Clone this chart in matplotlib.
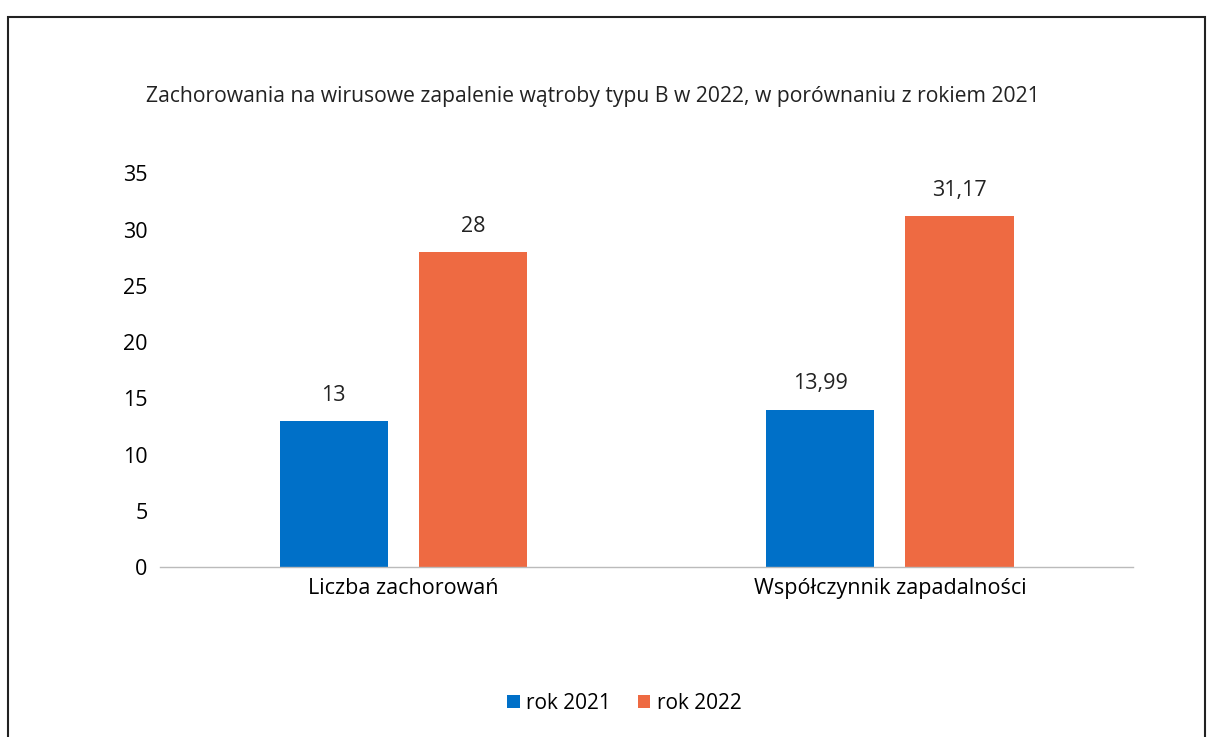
import matplotlib
matplotlib.use("Agg")
import matplotlib.pyplot as plt
import numpy as np
from matplotlib.patches import Rectangle

plt.rcParams["font.family"] = ["Open Sans", "DejaVu Sans"]

categories = ["Liczba zachorowań", "Współczynnik zapadalności"]
series = ["rok 2021", "rok 2022"]
values_2021 = [13, 13.99]
values_2022 = [28, 31.17]
labels_2021 = ["13", "13,99"]
labels_2022 = ["28", "31,17"]
colors = ["#0070c8", "#ee6a42"]

fig = plt.figure(figsize=(12.12, 7.37), dpi=100)
ax = fig.add_axes([0.132, 0.2307, 0.803, 0.534])

x = np.arange(len(categories))
w = 0.222
off = 0.143
b1 = ax.bar(x - off, values_2021, w, color=colors[0], label=series[0])
b2 = ax.bar(x + off, values_2022, w, color=colors[1], label=series[1])

for bars, labs in [(b1, labels_2021), (b2, labels_2022)]:
    for r, t in zip(bars, labs):
        ax.annotate(t, (r.get_x() + r.get_width() / 2, r.get_height()),
                    xytext=(0, 11), textcoords="offset points",
                    ha="center", va="bottom", fontsize=15.5, color="#222222")

ax.set_xlim(-0.5, 1.5)
ax.set_ylim(0, 35)
ax.set_yticks(range(0, 36, 5))
ax.set_xticks(x)
ax.set_xticklabels(categories, fontsize=15.5)
ax.tick_params(axis="y", length=0, pad=9, labelsize=15.5)
ax.tick_params(axis="x", length=0, pad=8)
for s in ["top", "right", "left"]:
    ax.spines[s].set_visible(False)
ax.spines["bottom"].set_color("#bbbbbb")
ax.spines["bottom"].set_linewidth(1)

fig.text(0.489, 0.869, "Zachorowania na wirusowe zapalenie wątroby typu B w 2022, w porównaniu z rokiem 2021",
         ha="center", va="center", fontsize=15.2, color="#222222")

fig.legend(handles=[b1, b2], labels=series, loc="center", bbox_to_anchor=(0.515, 0.046),
           ncol=2, frameon=False, fontsize=15, handlelength=0.6, handleheight=0.6,
           handletextpad=0.3, columnspacing=1.3)

fig.patches.append(Rectangle((8 / 1212, -0.02), (1205 - 8) / 1212, 1.02 - 17 / 737,
                             transform=fig.transFigure, fill=False,
                             edgecolor="#222222", linewidth=1.5))

fig.savefig("out.png", dpi=100)
